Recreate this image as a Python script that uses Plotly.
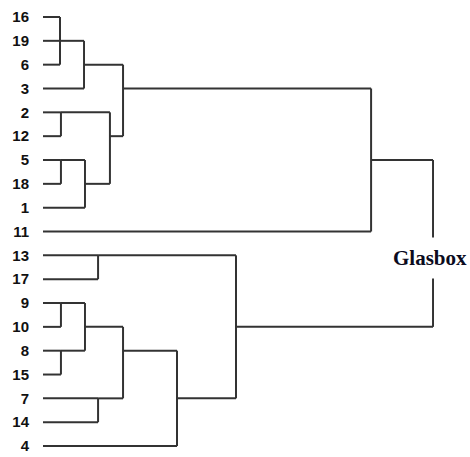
import plotly.graph_objects as go

# Leaf order (top to bottom)
leaves = ["16", "19", "6", "3", "2", "12", "5", "18", "1", "11",
          "13", "17", "9", "10", "8", "15", "7", "14", "4"]

# Agglomeration steps: "#k" refers to the cluster formed at step k
merge_a = ["16", "#0", "#1", "2", "5", "#4", "#3", "#2", "#7",
           "13", "9", "8", "#10", "7", "#12", "#14", "#9", "#8"]
merge_b = ["19", "6", "3", "12", "18", "1", "#5", "#6", "11",
           "17", "10", "15", "#11", "14", "#13", "4", "#15", "#16"]
merge_h = [1.09, 1.09, 2.63, 1.15, 1.15, 2.69, 4.29, 5.13, 21.03,
           3.53, 1.15, 1.15, 2.69, 3.53, 5.13, 8.59, 12.37, 25.0]

root_label = "Glasbox"

# ---- build dendrogram segments
pos = {lab: i for i, lab in enumerate(leaves)}
hgt = {lab: 0.0 for lab in leaves}
xs, ys = [], []
n = len(merge_a)
root_span = None
for k in range(n):
    a, b, h = merge_a[k], merge_b[k], merge_h[k]
    ya, yb = pos[a], pos[b]
    xs += [hgt[a], h, None, hgt[b], h, None]
    ys += [ya, ya, None, yb, yb, None]
    xs += [h, h, None]
    ys += [ya, yb, None]
    key = "#%d" % k
    pos[key] = (ya + yb) // 2
    hgt[key] = h
    if k == n - 1:
        root_span = (ya, yb, h)

fig = go.Figure()
fig.add_trace(go.Scatter(
    x=xs, y=ys, mode="lines",
    line=dict(color="#333333", width=2),
    hoverinfo="skip", showlegend=False,
))

fig.add_annotation(
    x=root_span[2], y=10.1, xref="x", yref="y",
    text="<b>%s</b>" % root_label, showarrow=False,
    font=dict(family="Liberation Serif, Times New Roman, serif", size=21, color="#0b0b20"),
    bgcolor="white", borderpad=8, xanchor="center", yanchor="middle", xshift=-3,
)

fig.update_layout(
    width=470, height=457,
    margin=dict(l=35, r=0, t=0, b=0),
    paper_bgcolor="white", plot_bgcolor="white",
    xaxis=dict(range=[-0.513, 27.37], visible=False, showgrid=False, zeroline=False,
               automargin=False),
    yaxis=dict(range=[18.46, -0.713], showgrid=False, zeroline=False, showline=False,
               automargin=False,
               tickmode="array", tickvals=list(range(len(leaves))), ticktext=leaves,
               ticks="", ticklabelstandoff=5,
               tickfont=dict(family="Liberation Sans, Arial, sans-serif",
                             size=15, color="#111111", weight="bold")),
)

fig.write_html("out.html", config={"displayModeBar": False},
               post_script="document.body.style.margin='0';")
